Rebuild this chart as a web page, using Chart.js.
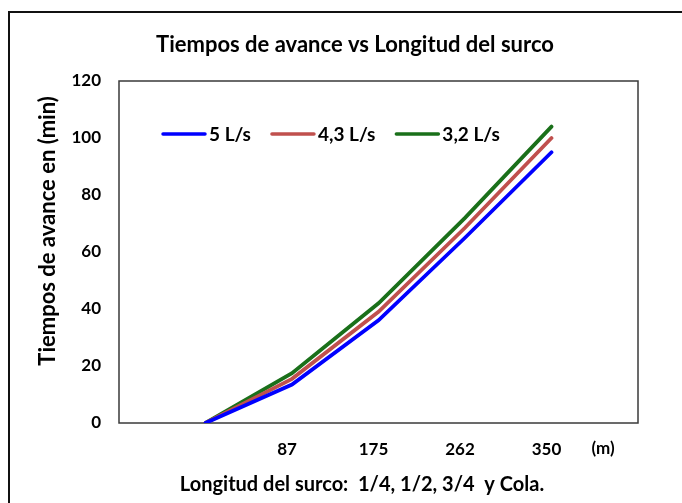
<!DOCTYPE html>
<html><head><meta charset="utf-8">
<script src="https://cdn.jsdelivr.net/npm/chart.js@4"></script>
<style>
html,body{margin:0;padding:0;background:#fff;}
#wrap{position:relative;width:682px;height:503px;overflow:hidden;background:#fff;}
#frame{position:absolute;left:8px;top:11px;width:700px;height:600px;border-left:2px solid #111;border-top:2px solid #111;}
canvas{position:absolute;left:0;top:0;}
</style></head><body>
<div id="wrap"><div id="frame"></div><canvas id="c" width="682" height="503"></canvas></div>
<script>
const categories = ['', '', '87', '175', '262', '350', ''];
const seriesNames = ['5 L/s', '4,3 L/s', '3,2 L/s'];
const serie5 = [null, 0, 13.5, 36, 65, 95, null];
const serie43 = [null, 0, 15.5, 39, 68.5, 100, null];
const serie32 = [null, 0, 17.5, 42, 72, 104, null];
const seriesColors = ['#0000ff', '#c0504d', '#1a701a'];
const yTicks = [0, 20, 40, 60, 80, 100, 120];
const chartTitle = 'Tiempos de avance vs Longitud del surco';
const yTitle = 'Tiempos de avance en (min)';
const xTitle = 'Longitud del surco:  1/4, 1/2, 3/4  y Cola.';
const xUnit = '(m)';

const FONT = 'Lato, "Open Sans", sans-serif';

const decor = {
  id: 'decor',
  beforeDatasetsDraw(chart) {
    const {ctx, chartArea: a} = chart;
    ctx.save();
    ctx.strokeStyle = '#3a3a3a';
    ctx.lineWidth = 1.5;
    ctx.strokeRect(a.left, a.top, a.right - a.left, a.bottom - a.top);
    ctx.restore();
  },
  afterDraw(chart) {
    const {ctx, chartArea: a} = chart;
    ctx.save();
    ctx.fillStyle = '#000';
    ctx.textBaseline = 'middle';
    ctx.textAlign = 'center';
    ctx.font = 'bold 22px ' + FONT;
    ctx.fillText(chartTitle, 355, 45);
    ctx.font = 'bold 20px ' + FONT;
    ctx.fillText(xTitle, 362, 485);
    ctx.font = 'bold 17px ' + FONT;
    ctx.fillText(xUnit, 603, 449);
    ctx.save();
    ctx.translate(48, 231);
    ctx.rotate(-Math.PI / 2);
    ctx.font = 'bold 22px ' + FONT;
    ctx.fillText(yTitle, 0, 0);
    ctx.restore();
    let x = a.left + 44;
    const y = a.top + 53;
    ctx.font = 'bold 19px ' + FONT;
    ctx.textAlign = 'left';
    chart.data.datasets.forEach(ds => {
      ctx.strokeStyle = ds.borderColor;
      ctx.lineWidth = 3.5;
      ctx.lineCap = 'round';
      ctx.beginPath();
      ctx.moveTo(x, y);
      ctx.lineTo(x + 42, y);
      ctx.stroke();
      ctx.fillText(ds.label, x + 46, y + 1);
      x += 46 + ctx.measureText(ds.label).width + 21;
    });
    ctx.restore();
  }
};

const seriesData = [serie5, serie43, serie32];
new Chart(document.getElementById('c'), {
  type: 'line',
  data: {
    labels: categories,
    datasets: seriesNames.map((n, i) => ({
      label: n,
      data: seriesData[i],
      borderColor: seriesColors[i],
      backgroundColor: seriesColors[i],
      borderWidth: 3.8,
      pointRadius: 0,
      tension: 0,
      borderCapStyle: 'round',
      spanGaps: false
    }))
  },
  options: {
    responsive: false,
    animation: false,
    layout: {padding: {left: 0, right: 44, top: 81, bottom: 0}},
    plugins: {legend: {display: false}, title: {display: false}, tooltip: {enabled: false}},
    scales: {
      x: {
        offset: false,
        grid: {display: false, drawTicks: false},
        border: {display: false},
        ticks: {color: '#000', font: {family: FONT, size: 17, weight: 'bold'}, padding: 16, labelOffset: -5, autoSkip: false, maxRotation: 0},
        afterFit(s) { s.height = 80; }
      },
      y: {
        min: 0, max: 120,
        grid: {display: false, drawTicks: false},
        border: {display: false},
        afterBuildTicks(s) { s.ticks = yTicks.map(v => ({value: v})); },
        ticks: {color: '#000', font: {family: FONT, size: 17, weight: 'bold'}, padding: 18},
        afterFit(s) { s.width = 119; }
      }
    }
  },
  plugins: [decor]
});
</script>
</body></html>
